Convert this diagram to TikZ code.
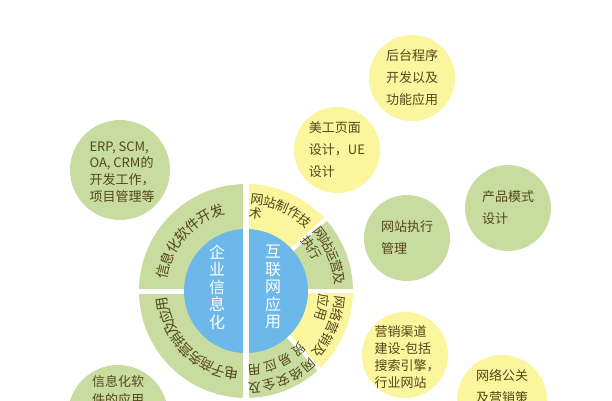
\documentclass[tikz,border=0pt]{standalone}
\usepackage{fontspec}
\newfontfamily\cjk{Noto Sans CJK SC}
\usetikzlibrary{shapes.geometric}
\definecolor{leaf}{HTML}{C8DCA0}
\definecolor{lemon}{HTML}{FBF59E}
\definecolor{sky}{HTML}{6CB8EA}
\definecolor{ink}{HTML}{54461A}

\begin{document}
\begin{tikzpicture}[x=1pt,y=1pt]
\tikzstyle{bubble} = [circle, inner sep=0pt, minimum size=86pt]
\tikzstyle{note} = [align=left, text=ink, inner sep=0pt,
font=\cjk\fontsize{13}{22}\selectfont]
\tikzstyle{note_tight} = [note, font=\cjk\fontsize{13}{16.7}\selectfont]
\tikzstyle{ring_l} = [text=ink, inner sep=0pt, font=\cjk\fontsize{14}{14}\selectfont]
\tikzstyle{ring_r} = [text=ink, inner sep=0pt, font=\cjk\fontsize{13}{13}\selectfont]
\tikzstyle{hub_txt} = [align=center, text=white, inner sep=0pt,
font=\cjk\fontsize{16}{17.5}\selectfont]
\tikzstyle{gap} = [draw=white, line width=5pt]
\useasboundingbox (0,0) rectangle (612,400);
\clip (0,0) rectangle (612,400);

% outer bubbles
\node [bubble, fill=lemon] (houtai) at (412,322) {};
\node [note] (houtai_t) at (houtai) {后台程序\\开发以及\\功能应用};
\node [bubble, fill=lemon] (meigong) at (337,250) {};
\node [note] (meigong_t) at (meigong) {美工页面\\设计，UE\\设计};
\node [bubble, fill=leaf, minimum size=100pt] (erp) at (120,230) {};
\node [note_tight] (erp_t) at (122,228) {ERP, SCM,\\OA, CRM的\\开发工作，\\项目管理等};
\node [bubble, fill=leaf] (zhixing) at (407,162) {};
\node [note] (zhixing_t) at (zhixing) {网站执行\\管理};
\node [bubble, fill=leaf] (chanpin) at (508,192) {};
\node [note] (chanpin_t) at (chanpin) {产品模式\\设计};
\node [bubble, fill=lemon] (yingxiao) at (405,45) {};
\node [note_tight] (yingxiao_t) at (407,43) {营销渠道\\建设-包括\\搜索引擎，\\行业网站};
\node [bubble, fill=lemon, minimum size=90pt] (gongguan) at (502,0) {};
\node [note] (gongguan_t) at (502,14) {网络公关\\及营销策};
\node [bubble, fill=leaf, minimum size=100pt] (ruanjian) at (118,-15) {};
\node [note, font=\cjk\fontsize{13}{18}\selectfont] (ruanjian_t) at (118,9) {信息化软\\件的应用};

% the wheel
\coordinate (wheel) at (246,109);
\fill [leaf] (wheel) -- ++(90:107) arc (90:270:107) -- cycle;
\fill [lemon] (wheel) -- ++(90:107) arc (90:42:107) -- cycle;
\fill [leaf] (wheel) -- ++(42:107) arc (42:0:107) -- cycle;
\fill [lemon] (wheel) -- ++(0:107) arc (0:-47:107) -- cycle;
\fill [leaf] (wheel) -- ++(-47:107) arc (-47:-90:107) -- cycle;
\node [circle, fill=sky, inner sep=0pt, minimum size=124pt] (hub) at (wheel) {};
\draw [gap, line width=6pt] ([shift={(90:109)}]wheel) -- ([shift={(-90:109)}]wheel);
\draw [gap] ([shift={(180:109)}]wheel) -- (hub.west);
\draw [gap, line width=4pt] (hub.42) -- ([shift={(42:109)}]wheel);
\draw [gap, line width=4pt] (hub.east) -- ([shift={(0:109)}]wheel);
\draw [gap, line width=4pt] (hub.-47) -- ([shift={(-47:109)}]wheel);

\node [hub_txt] (qiye) at (217,113) {企\\业\\信\\息\\化};
\node [hub_txt] (hulian) at (273,113) {互\\联\\网\\应\\用};

% left half
\foreach \ch [count=\i] in {信,息,化,软,件,开,发}
  \node [ring_l, rotate=86.5-9.5*\i] (soft\i) at ([shift={(176.5-9.5*\i:85)}]wheel) {\ch};
\foreach \ch [count=\i] in {电,子,商,务,营,销,及,应,用}
  \node [ring_l, rotate=178.9-8.9*\i] (shop\i) at ([shift={(268.9-8.9*\i:84)}]wheel) {\ch};

% right half
\foreach \ch [count=\i] in {网,站,制,作,技}
  \node [ring_r, rotate=1.25-8.25*\i] (make\i) at ([shift={(91.25-8.25*\i:92)}]wheel) {\ch};
\node [ring_r, rotate=-7] (make6) at ([shift={(83:78)}]wheel) {术};
\foreach \ch [count=\i] in {网,站,运,营,及}
  \node [ring_r, rotate=-45-7.4*\i] (run\i) at ([shift={(45-7.4*\i:94)}]wheel) {\ch};
\foreach \ch [count=\i] in {执,行}
  \node [ring_r, rotate=-43-9*\i] (runb\i) at ([shift={(47-9*\i:79)}]wheel) {\ch};
\foreach \ch [count=\i] in {网,络,营,销,及}
  \node [ring_r, rotate=-89-8*\i] (sell\i) at ([shift={(1-8*\i:94)}]wheel) {\ch};
\foreach \ch [count=\i] in {应,用}
  \node [ring_r, rotate=-87-10*\i] (sellb\i) at ([shift={(3-10*\i:78)}]wheel) {\ch};
\foreach \ch [count=\i] in {网,络,安,全,及}
  \node [ring_r, rotate=-131.25-8.75*\i] (safe\i) at ([shift={(-41.25-8.75*\i:97)}]wheel) {\ch};
\foreach \ch [count=\i] in {贸,易,应,用}
  \node [ring_r, rotate=-126-12*\i] (safeb\i) at ([shift={(-36-12*\i:79)}]wheel) {\ch};
\end{tikzpicture}
\end{document}
